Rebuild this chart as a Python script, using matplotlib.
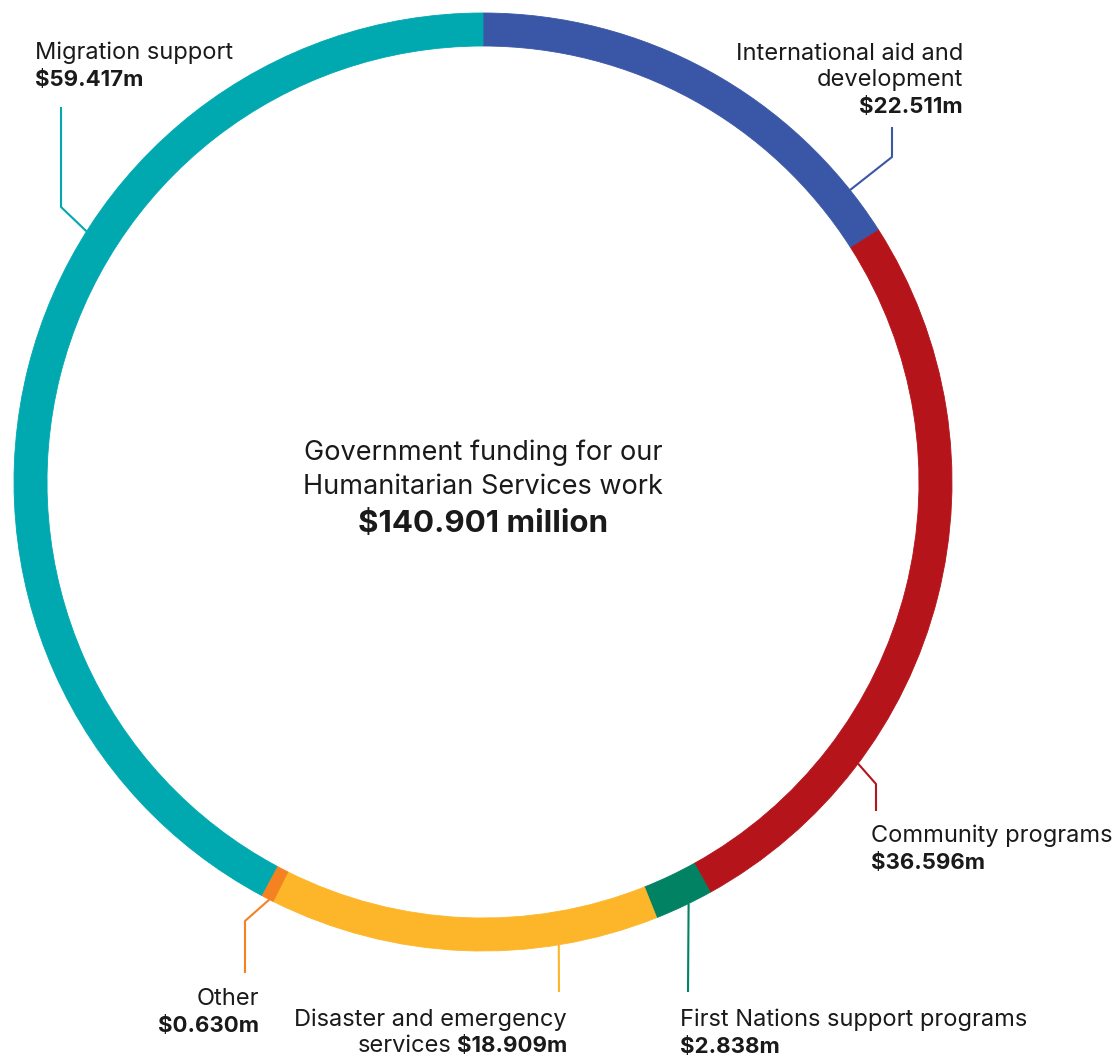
import numpy as np
import matplotlib.pyplot as plt

plt.rcParams['font.family'] = 'Inter'

# funding by program area, clockwise from 12 o'clock ($m)
categories = ['International aid and\ndevelopment', 'Community programs',
              'First Nations support programs', 'Disaster and emergency\nservices',
              'Other', 'Migration support']
values = [22.511, 36.596, 2.838, 18.909, 0.630, 59.417]
colors = ['#3a56a6', '#b5141b', '#008263', '#fdb62a', '#f58220', '#00a8b0']
total = 140.901
centre_text = 'Government funding for our\nHumanitarian Services work'

W, H = 1116, 1056
cx, cy = 483, 482          # ring centre (pixels, y down)
R, ring = 469, 33
INK = '#1a1a1a'
LINE = 26                  # label line pitch, px


def px(x, y):
    # pixel position (y down) -> data coords
    return x, H - y


fig = plt.figure(figsize=(W / 100, H / 100), dpi=100)
ax = fig.add_axes([0, 0, 1, 1])
wedges, _ = ax.pie(values, colors=colors, startangle=90, counterclock=False,
                   radius=R, center=px(cx, cy), wedgeprops=dict(width=ring))
for w, c in zip(wedges, colors):
    w.set_edgecolor(c)
    w.set_linewidth(0.6)
ax.set_xlim(0, W)
ax.set_ylim(0, H)
ax.set_aspect('equal')
ax.axis('off')

# leader lines: angle on the ring, then elbow / end points
leaders = [
    (38.5, [(892, 157), (892, 127)]),
    (-36.9, [(876, 784), (876, 811)]),
    (-64.0, [(688, 992)]),
    (-80.7, [(559, 992)]),
    (-117.1, [(245, 921), (245, 973)]),
    (147.7, [(61, 207), (61, 107)]),
]
for (ang, pts), col in zip(leaders, colors):
    a = np.deg2rad(ang)
    x0, y0 = cx + R * np.cos(a), cy - R * np.sin(a)
    xs = [x0] + [p[0] for p in pts]
    ys = [H - y0] + [H - p[1] for p in pts]
    ax.plot(xs, ys, color=col, lw=1.5, solid_capstyle='butt')

fs, fs_b = 17, 16
# label text: (x, first baseline, align)
labels = [
    (963, 60, 'right'),
    (871, 842, 'left'),
    (680, 1026, 'left'),
    None,
    (259, 1005, 'right'),
    (35, 59, 'left'),
]
for cat, val, lab in zip(categories, values, labels):
    if lab is None:
        continue
    x, y, ha = lab
    for line in cat.split('\n'):
        ax.text(*px(x, y), line, ha=ha, va='baseline', fontsize=fs, color=INK)
        y += LINE
    ax.text(*px(x, y + 1), f'${val:.3f}m', ha=ha, va='baseline', fontsize=fs_b,
            fontweight='bold', color=INK)

# disaster label: name wraps, value shares the last line
dname = categories[3].split('\n')
ax.text(*px(567, 1026), dname[0], ha='right', va='baseline', fontsize=fs, color=INK)
val_txt = ax.text(*px(567, 1052), f'${values[3]:.3f}m', ha='right', va='baseline',
                  fontsize=fs_b, fontweight='bold', color=INK)
fig.canvas.draw()
bb = val_txt.get_window_extent(fig.canvas.get_renderer())
x_left = ax.transData.inverted().transform((bb.x0, 0))[0]
ax.text(x_left - 5, H - 1052, dname[1], ha='right', va='baseline', fontsize=fs, color=INK)

# centre total
for line, y in zip(centre_text.split('\n'), [460, 494]):
    ax.text(*px(cx, y), line, ha='center', va='baseline', fontsize=19.5, color=INK)
ax.text(*px(cx, 532), f'${total:.3f} million', ha='center', va='baseline',
        fontsize=22.5, fontweight='bold', color=INK)

fig.savefig('out.png', dpi=100)
